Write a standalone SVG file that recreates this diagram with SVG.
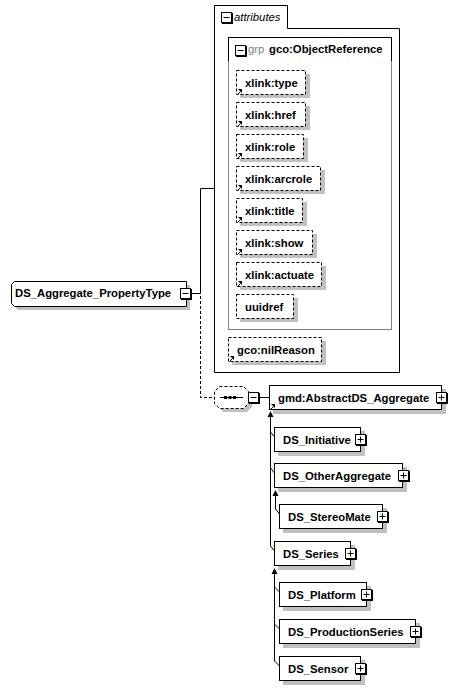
<svg xmlns="http://www.w3.org/2000/svg" width="457" height="690" viewBox="0 0 457 690">
<style>
text{font-family:"Liberation Sans",Arial,sans-serif;font-size:11.3px;fill:#000}
.b{font-weight:bold}
.box{fill:#fff;stroke:#000;stroke-width:1}
.dash{fill:#fff;stroke:#000;stroke-width:1;stroke-dasharray:3,2}
.sh{fill:#c0c0c0;stroke:none}
.ln{fill:none;stroke:#000;stroke-width:1}
.dln{fill:none;stroke:#000;stroke-width:1;stroke-dasharray:3,2}
.pm{fill:#fff;stroke:#000;stroke-width:1}
.pmsh{fill:#000}
.ah{fill:#000}
</style>
<defs>
<g id="plus"><rect class="pmsh" x="1" y="1" width="11" height="11"/><rect class="pm" x="0.5" y="0.5" width="10" height="10"/><path class="ln" d="M2.5,5.5H8.5M5.5,2.5V8.5"/></g>
<g id="minus"><rect class="pmsh" x="1" y="1" width="11" height="11"/><rect class="pm" x="0.5" y="0.5" width="10" height="10"/><path class="ln" d="M2.5,5.5H8.5"/></g>
<g id="ref"><path class="ln" d="M1.5,6.5L4.5,3.5"/><path class="ah" d="M6,1L6,5L2,1Z"/></g>
</defs>

<g id="connectors">
<path class="ln" d="M191,293.5H200.5V188.5H214"/>
<path class="dln" d="M200.5,296V397.5H214"/>
<path class="ln" d="M259,397.5H269"/>
<path class="ln" d="M270.5,415V546L274.5,551"/>
<path class="ah" d="M270.5,411L273.5,417L267.5,417Z"/>
<path class="ln" d="M270.5,432L274.5,437"/>
<path class="ln" d="M270.5,468L274.5,473"/>
<path class="ln" d="M275.5,494V509L279.5,514"/>
<path class="ah" d="M275.5,490L278.5,496L272.5,496Z"/>
<path class="ln" d="M274.5,572V661L279.5,666"/>
<path class="ah" d="M274.5,568L277.5,574L271.5,574Z"/>
<path class="ln" d="M274.5,587L279.5,592"/>
<path class="ln" d="M274.5,624L279.5,629"/>
</g>

<g id="attributes">
<path class="box" d="M214.5,5.5H287.5V28.5H399.5V372.5H214.5Z"/>
<use href="#minus" x="221" y="12"/>
<text x="234" y="21" font-style="italic">attributes</text>
</g>

<g id="grp">
<rect x="228.5" y="37.5" width="163" height="292" fill="#fff" stroke="#808080"/>
<path class="ln" d="M228.5,61V37.5H391.5V61"/>
<use href="#minus" x="235" y="45"/>
<text x="248" y="53" fill="#808080" style="fill:#808080">grp</text>
<text x="269" y="53" class="b">gco:ObjectReference</text>
</g>

<g id="xlink-type"><rect class="sh" x="240" y="74" width="70" height="24"/><rect class="dash" x="236.5" y="70.5" width="69" height="24"/><use href="#ref" x="236" y="88"/><text x="245" y="87" class="b">xlink:type</text></g>
<g id="xlink-href"><rect class="sh" x="240" y="106" width="70" height="24"/><rect class="dash" x="236.5" y="102.5" width="69" height="24"/><use href="#ref" x="236" y="120"/><text x="245" y="119" class="b">xlink:href</text></g>
<g id="xlink-role"><rect class="sh" x="240" y="138" width="68" height="24"/><rect class="dash" x="236.5" y="134.5" width="67" height="24"/><use href="#ref" x="236" y="152"/><text x="245" y="151" class="b">xlink:role</text></g>
<g id="xlink-arcrole"><rect class="sh" x="240" y="170" width="85" height="24"/><rect class="dash" x="236.5" y="166.5" width="84" height="24"/><use href="#ref" x="236" y="184"/><text x="245" y="183" class="b">xlink:arcrole</text></g>
<g id="xlink-title"><rect class="sh" x="240" y="202" width="67" height="24"/><rect class="dash" x="236.5" y="198.5" width="66" height="24"/><use href="#ref" x="236" y="216"/><text x="245" y="215" class="b">xlink:title</text></g>
<g id="xlink-show"><rect class="sh" x="240" y="234" width="77" height="24"/><rect class="dash" x="236.5" y="230.5" width="76" height="24"/><use href="#ref" x="236" y="248"/><text x="245" y="247" class="b">xlink:show</text></g>
<g id="xlink-actuate"><rect class="sh" x="240" y="266" width="86" height="24"/><rect class="dash" x="236.5" y="262.5" width="85" height="24"/><use href="#ref" x="236" y="280"/><text x="245" y="279" class="b">xlink:actuate</text></g>
<g id="uuidref"><rect class="sh" x="240" y="298" width="58" height="24"/><rect class="dash" x="236.5" y="294.5" width="57" height="24"/><text x="245" y="311" class="b">uuidref</text></g>
<g id="gco-nilReason"><rect class="sh" x="232" y="341" width="94" height="24"/><rect class="dash" x="228.5" y="337.5" width="93" height="24"/><use href="#ref" x="228" y="355"/><text x="237" y="354" class="b">gco:nilReason</text></g>

<g id="DS_Aggregate_PropertyType">
<path class="sh" d="M18,285H190V310H18L15,307V288Z"/>
<path class="box" d="M14.5,281.5H186.5V306.5H14.5L11.5,303.5V284.5Z"/>
<text x="15" y="297" class="b">DS_Aggregate_PropertyType</text>
<use href="#minus" x="180" y="288"/>
</g>

<g id="sequence">
<path class="sh" d="M223,390H247L252,395V407L247,412H223L218,407V395Z"/>
<path class="dash" d="M219.5,386.5H243.5L248.5,391.5V403.5L243.5,408.5H219.5L214.5,403.5V391.5Z"/>
<path class="ln" d="M220,397.5H243"/>
<rect x="224" y="396" width="3" height="3" fill="#000"/>
<rect x="228.5" y="396" width="3" height="3" fill="#000"/>
<rect x="233" y="396" width="3" height="3" fill="#000"/>
<use href="#minus" x="248" y="392"/>
</g>

<g id="gmd-AbstractDS_Aggregate"><rect class="sh" x="273" y="389" width="173" height="25"/><rect class="box" x="269.5" y="385.5" width="172" height="24"/><use href="#ref" x="269" y="403"/><text x="278" y="402" class="b">gmd:AbstractDS_Aggregate</text><use href="#plus" x="436" y="392"/></g>
<g id="DS_Initiative"><rect class="sh" x="278" y="431" width="87" height="25"/><rect class="box" x="274.5" y="427.5" width="86" height="24"/><text x="283" y="444" class="b">DS_Initiative</text><use href="#plus" x="355" y="434"/></g>
<g id="DS_OtherAggregate"><rect class="sh" x="278" y="467" width="129" height="25"/><rect class="box" x="274.5" y="463.5" width="128" height="24"/><text x="283" y="480" class="b">DS_OtherAggregate</text><use href="#plus" x="398" y="470"/></g>
<g id="DS_StereoMate"><rect class="sh" x="283" y="508" width="104" height="25"/><rect class="box" x="279.5" y="504.5" width="103" height="24"/><text x="288" y="521" class="b">DS_StereoMate</text><use href="#plus" x="377" y="511"/></g>
<g id="DS_Series"><rect class="sh" x="278" y="545" width="77" height="25"/><rect class="box" x="274.5" y="541.5" width="76" height="24"/><text x="283" y="558" class="b">DS_Series</text><use href="#plus" x="345" y="548"/></g>
<g id="DS_Platform"><rect class="sh" x="283" y="586" width="88" height="25"/><rect class="box" x="279.5" y="582.5" width="87" height="24"/><text x="288" y="599" class="b">DS_Platform</text><use href="#plus" x="361" y="589"/></g>
<g id="DS_ProductionSeries"><rect class="sh" x="283" y="623" width="137" height="25"/><rect class="box" x="279.5" y="619.5" width="136" height="24"/><text x="288" y="636" class="b">DS_ProductionSeries</text><use href="#plus" x="410" y="626"/></g>
<g id="DS_Sensor"><rect class="sh" x="283" y="660" width="82" height="25"/><rect class="box" x="279.5" y="656.5" width="81" height="24"/><text x="288" y="673" class="b">DS_Sensor</text><use href="#plus" x="355" y="663"/></g>
</svg>
